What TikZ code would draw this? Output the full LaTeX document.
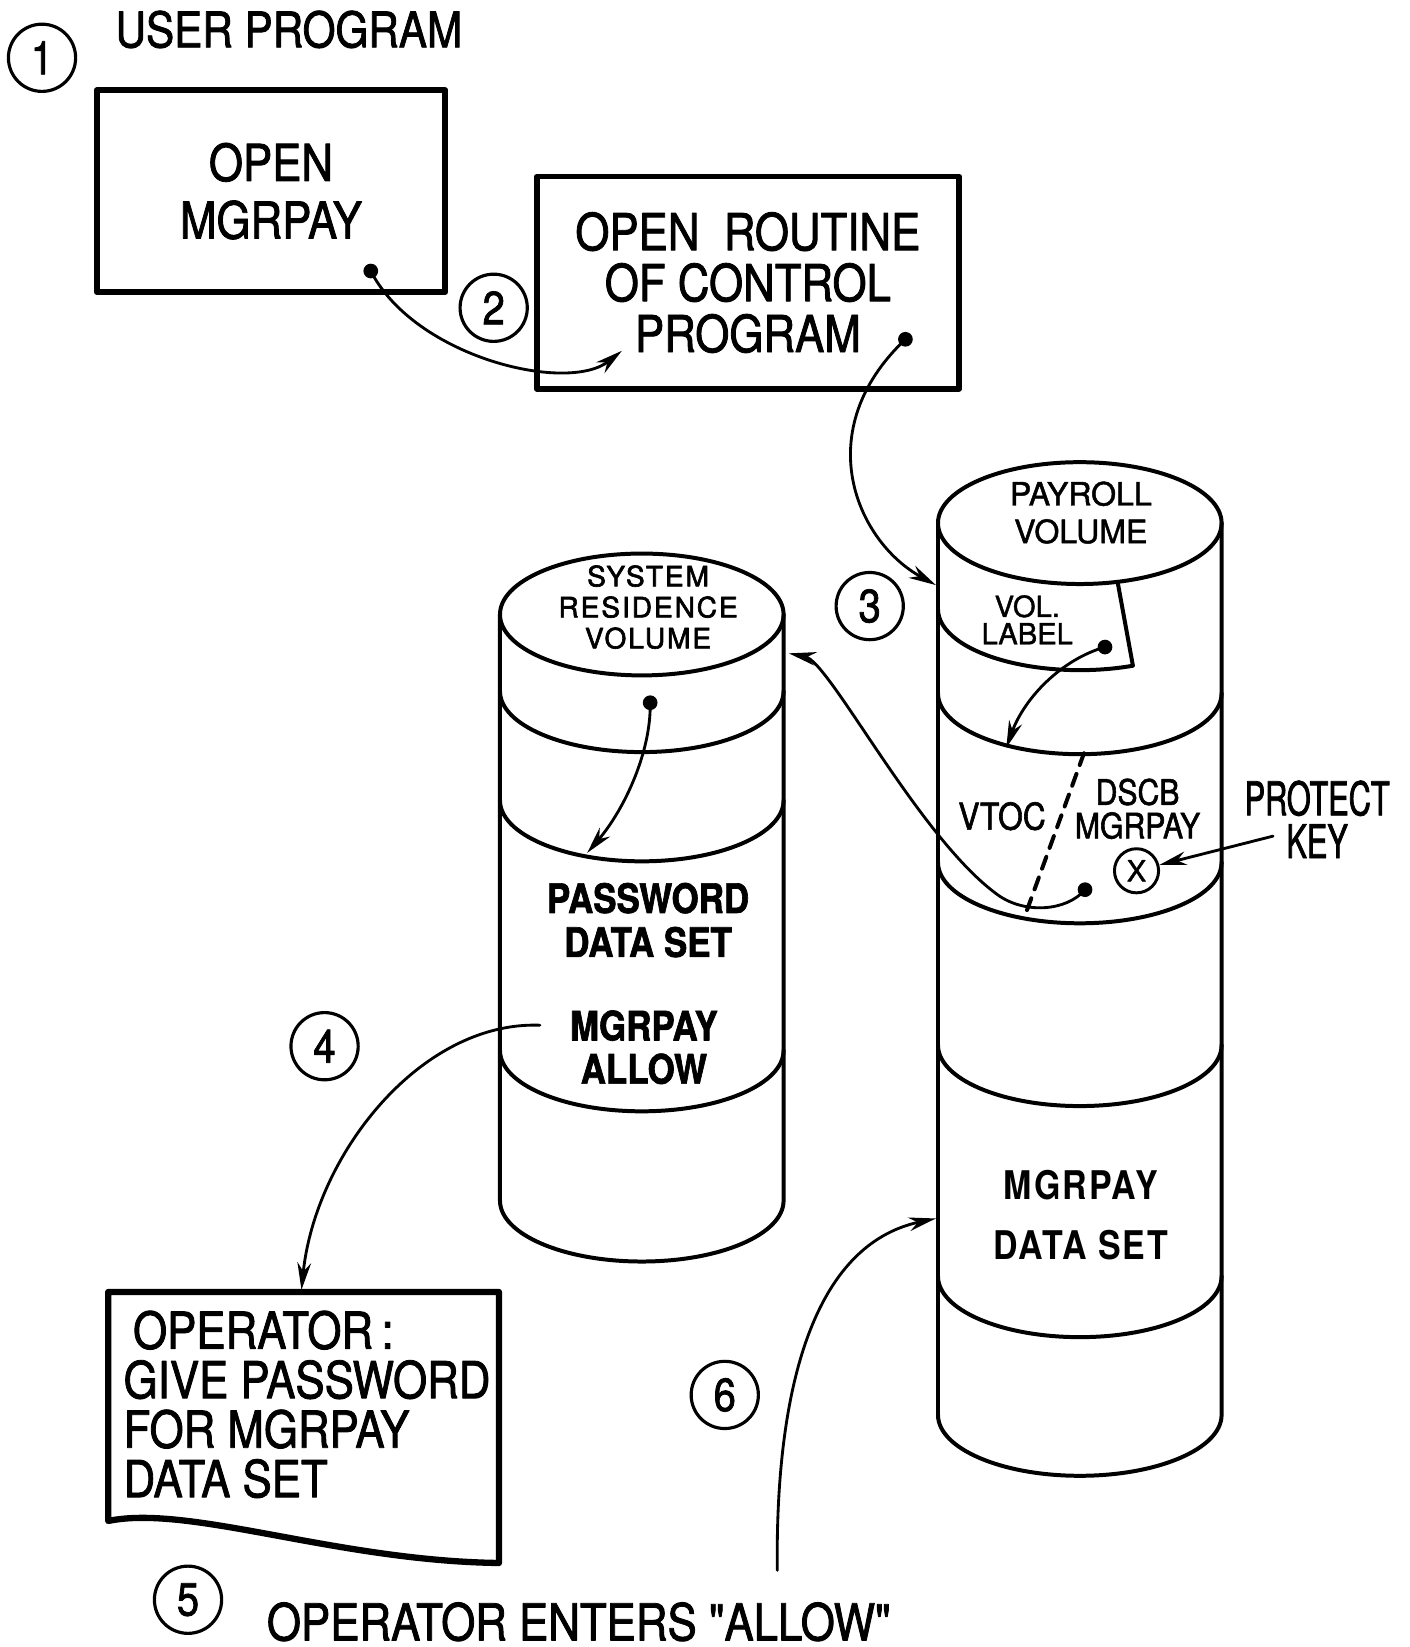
\documentclass[tikz,border=0pt]{standalone}
\usepackage{fontspec}
\setmainfont{TeX Gyre Heros}[FakeStretch=0.86,FakeBold=1.6,Ligatures=TeXOff]
\newfontfamily\widefont{TeX Gyre Heros}[FakeBold=1.4]
\newfontfamily\spacedfont{TeX Gyre Heros}[LetterSpace=7,FakeBold=2.2]
\newfontfamily\bandfont{TeX Gyre Heros}[FakeStretch=0.86,LetterSpace=5]
\newfontfamily\slimfont{TeX Gyre Heros}[FakeStretch=0.66,FakeBold=1.6]
\usetikzlibrary{arrows.meta}
\newcommand\fsz[2]{\fontsize{#1}{#2}\selectfont}

\begin{document}
\begin{tikzpicture}[x=0.1mm,y=-0.1mm,>={Stealth[length=2.6mm,width=1.3mm]}, line join=round, line cap=round]
	\tikzset{box/.style={draw,line width=0.55mm,inner sep=0pt,align=center},
		stepno/.style={draw,circle,line width=0.3mm,minimum size=6.4mm,inner sep=0pt,font=\fsz{12.6}{12.6}},
		disk/.style={line width=0.38mm},
		link/.style={->,line width=0.27mm},
		disklabel/.style={align=center,inner sep=0pt}}
	\def \rx{135}\def \ry{58}
	\fill[white] (0,0) rectangle (1342,1568);
	\useasboundingbox (0,0) rectangle (1342,1568);
	% user program and open routine
	\node[stepno] (s1) at (40,55) {1};
	\node[font=\fsz{13.3}{13.3}] (userprog) at (275,28) {USER PROGRAM};
	\node[box,minimum width=33.2mm,minimum height=19.2mm,font=\fsz{13.8}{15.6}] (useropen) at (258,182) {OPEN\\MGRPAY};
	\node[box,minimum width=40.2mm,minimum height=20.2mm,font=\fsz{13.8}{13.8}] (openrtn) at (712,269) {OPEN~~ROUTINE\\OF CONTROL\\PROGRAM};
	\node[stepno] (s2) at (470,293) {2};
	\node[stepno] (s3) at (828,577) {3};
	\node[stepno] (s4) at (309,996) {4};
	\node[stepno] (s5) at (179,1523) {5};
	\node[stepno] (s6) at (690,1328) {6};
	% payroll volume
	\draw[disk] (1028,498) ellipse[x radius=\rx,y radius=\ry];
	\draw[disk] (893,498) -- (893,1347) arc[start angle=180,end angle=0,x radius=\rx,y radius=\ry] -- (1163,498);
	\foreach \y in {660,821,995,1215}
		\draw[disk] (893,\y) arc[start angle=180,end angle=0,x radius=\rx,y radius=\ry];
	\draw[disk] (893,580) arc[start angle=180,end angle=68,x radius=\rx,y radius=\ry] -- (1064,554);
	\draw[disk,dash pattern=on 1.2mm off 0.9mm] (1032,717) -- (975,874);
	\node[disklabel,font=\widefont\fsz{8.7}{10.2}] (payroll) at (1029,488) {PAYROLL\\VOLUME};
	\node[disklabel,font=\widefont\fsz{7.9}{7.4}] (vollabel) at (978,590) {VOL.\\LABEL};
	\node[disklabel,font=\fsz{10}{10}] (vtoc) at (954,777) {VTOC};
	\node[disklabel,font=\fsz{9.5}{9.1}] (dscb) at (1083,770) {DSCB\\MGRPAY};
	\node[draw,circle,line width=0.28mm,minimum size=4.2mm,inner sep=0pt,font=\widefont\fsz{7.9}{7.9}] (xkey) at (1082,829) {X};
	\node[disklabel,font=\slimfont\fsz{12.6}{11.6}] (protect) at (1254,780) {PROTECT\\KEY};
	\node[disklabel,font=\bandfont\bfseries\fsz{10.7}{16.2}] (mgrset) at (1029,1157) {MGRPAY\\DATA SET};
	% system residence volume
	\draw[disk] (611,585) ellipse[x radius=\rx,y radius=\ry];
	\draw[disk] (476,585) -- (476,1143) arc[start angle=180,end angle=0,x radius=\rx,y radius=\ry] -- (746,585);
	\foreach \y in {658,762,1000}
		\draw[disk] (476,\y) arc[start angle=180,end angle=0,x radius=\rx,y radius=\ry];
	\node[disklabel,font=\spacedfont\fsz{7.6}{8.4}] (sysres) at (617,578) {SYSTEM\\RESIDENCE\\VOLUME};
	\node[disklabel,font=\bfseries\fsz{11}{11.9}] (pwdset) at (617,876) {PASSWORD\\DATA SET};
	\node[disklabel,font=\bfseries\fsz{11}{11.7}] (allow) at (613,997) {MGRPAY\\ALLOW};
	% operator message
	\draw[line width=0.6mm] (475,1488) -- (475,1230) -- (103,1230) -- (103,1448) .. controls (180,1432) and (320,1486) .. (475,1488);
	\node[anchor=west,align=left,inner sep=0pt,font=\fsz{13.8}{13.4}] (opmsg) at (117,1337) {\hspace{0.9mm}OPERATOR\,:\\GIVE PASSWORD\\FOR MGRPAY\\DATA SET};
	\node[font=\fsz{13.8}{13.8}] (entered) at (551,1544) {OPERATOR ENTERS "ALLOW"};
	% connectors
	\coordinate (openDot) at (353,258);
	\coordinate (routineIn) at (592,334);
	\coordinate (routineDot) at (862,323);
	\coordinate (payrollIn) at (891,557);
	\coordinate (labelDot) at (1052,616);
	\coordinate (vtocIn) at (958,712);
	\coordinate (dscbDot) at (1033,847);
	\coordinate (dscbBend) at (950,852);
	\coordinate (sysresIn) at (751,622);
	\coordinate (sysresDot) at (619,669);
	\coordinate (passwordIn) at (559,812);
	\coordinate (allowOut) at (514,976);
	\coordinate (operatorIn) at (287,1228);
	\coordinate (enterOut) at (740,1495);
	\coordinate (datasetIn) at (891,1160);
	\coordinate (keyOut) at (1212,796);
	\foreach \d in {openDot,routineDot,labelDot,dscbDot,sysresDot}
		\fill (\d) circle (7);
	\draw[link] (openDot) .. controls (395,340) and (540,375) .. (routineIn);
	\draw[link] (routineDot) .. controls (770,410) and (815,515) .. (payrollIn);
	\draw[link] (labelDot) .. controls (1010,628) and (975,665) .. (vtocIn);
	\draw[link] (dscbDot) .. controls (1015,868) and (975,870) .. (dscbBend) .. controls (875,798) and (790,630) .. (sysresIn);
	\draw[link] (sysresDot) .. controls (620,715) and (595,770) .. (passwordIn);
	\draw[link] (allowOut) .. controls (400,972) and (300,1100) .. (operatorIn);
	\draw[link] (enterOut) .. controls (738,1320) and (775,1185) .. (datasetIn);
	\draw[link] (keyOut) -- (xkey);
\end{tikzpicture}
\end{document}
